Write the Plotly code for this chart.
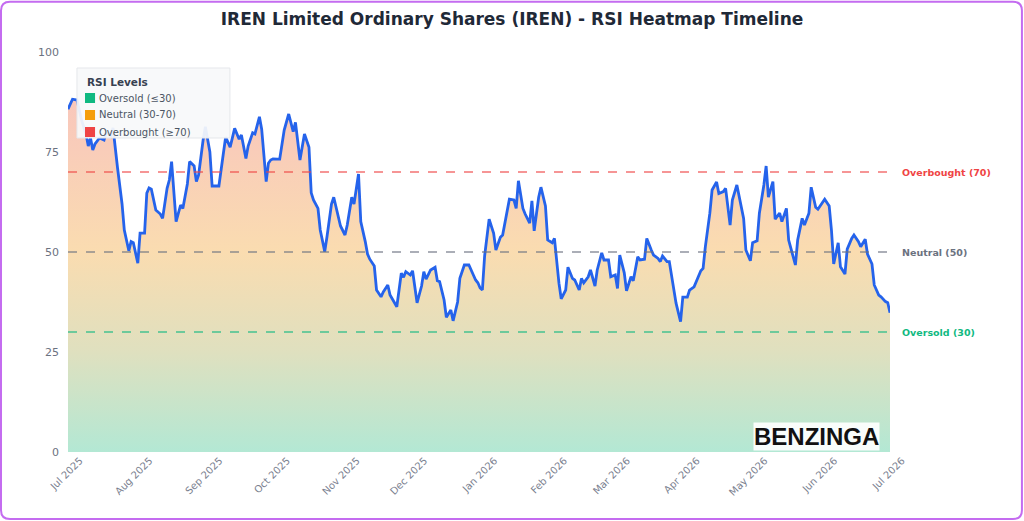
import pandas as pd
import plotly.graph_objects as go

# Day offsets from 2025-07-01 and RSI values
day_offset = [0, 2, 4, 6, 8, 9, 10, 11, 12, 14, 16, 17, 19, 20, 22, 23, 24, 25, 27, 28,
              29, 31, 32, 34, 35, 36, 37, 39, 41, 42, 44, 45, 46, 48, 50, 51, 53, 54, 56, 57,
              58, 60, 61, 63, 64, 66, 67, 69, 70, 72, 74, 76, 77, 79, 80, 82, 83, 85, 86, 88,
              89, 90, 91, 93, 94, 96, 97, 98, 100, 101, 103, 104, 105, 107, 108, 109, 111, 112, 114, 115,
              117, 118, 120, 121, 123, 124, 126, 127, 129, 130, 132, 133, 134, 136, 137, 139, 140, 142, 143, 145,
              146, 148, 149, 150, 152, 153, 155, 157, 158, 159, 161, 163, 164, 165, 167, 168, 170, 171, 173, 174,
              176, 177, 178, 180, 181, 182, 183, 184, 185, 187, 189, 190, 192, 193, 195, 196, 198, 199, 200, 202,
              203, 205, 206, 207, 209, 210, 212, 213, 215, 216, 218, 219, 221, 222, 224, 225, 227, 228, 229, 231,
              232, 234, 235, 237, 238, 240, 241, 243, 244, 245, 247, 248, 250, 251, 253, 254, 256, 257, 259, 260,
              262, 263, 264, 266, 267, 269, 270, 272, 273, 275, 276, 278, 279, 281, 282, 283, 285, 286, 288, 289,
              291, 292, 294, 295, 297, 298, 300, 301, 303, 304, 306, 307, 309, 310, 311, 313, 314, 316, 317, 319,
              320, 321, 323, 324, 326, 327, 329, 330, 332, 333, 335, 336, 338, 339, 340, 342, 343, 345, 346, 348,
              349, 351, 352, 354, 355, 357, 358, 360, 361, 363, 364, 365]
rsi = [85.7, 88.2, 88.0, 83.0, 79.5, 76.5, 78.5, 75.5, 77.0, 78.5, 78.0, 80.0, 79.0, 81.0, 71.0, 67.0, 62.0, 55.5, 50.3, 52.6,
       52.3, 47.2, 54.7, 54.7, 64.7, 66.0, 65.7, 60.5, 59.5, 58.4, 65.9, 68.0, 72.6, 57.6, 61.75, 60.9, 67.0, 72.6, 71.5, 67.6,
       69.25, 78.0, 81.3, 75.0, 66.5, 66.5, 66.5, 74.7, 78.7, 76.2, 80.9, 78.2, 79.25, 73.4, 76.5, 79.8, 79.5, 83.8, 80.7, 67.6,
       72.2, 73.0, 73.25, 73.2, 73.2, 80.5, 82.5, 84.5, 80.1, 82.4, 73.0, 76.5, 79.5, 76.2, 64.8, 63.0, 60.9, 55.5, 50.1, 53.8,
       62.0, 63.7, 58.8, 56.5, 54.25, 56.75, 63.7, 62.0, 69.5, 57.6, 52.6, 49.5, 48.2, 46.5, 40.5, 38.8, 40.0, 41.75, 39.25, 37.5,
       36.3, 44.7, 43.7, 45.1, 44.25, 45.3, 37.3, 41.5, 45.1, 43.2, 45.5, 46.2, 42.8, 42.6, 38.0, 33.7, 35.5, 32.8, 37.5, 43.4,
       46.75, 46.75, 46.75, 44.25, 43.0, 42.3, 41.0, 40.5, 49.0, 58.2, 54.7, 50.5, 53.7, 54.25, 60.1, 63.2, 63.0, 60.9, 67.8, 60.9,
       59.5, 57.2, 62.8, 55.3, 63.7, 66.2, 61.5, 53.0, 52.3, 53.4, 42.2, 38.3, 40.5, 46.2, 43.4, 43.0, 40.5, 43.4, 42.3, 43.8,
       45.5, 41.5, 45.5, 49.8, 48.0, 48.0, 43.8, 44.25, 40.9, 49.25, 44.8, 40.3, 43.8, 42.8, 48.8, 48.0, 48.2, 53.4, 50.5, 49.25,
       48.4, 47.6, 49.0, 47.6, 47.6, 40.7, 37.2, 32.6, 38.7, 38.7, 40.5, 41.3, 42.6, 45.3, 45.9, 51.3, 59.7, 65.5, 67.5, 64.6,
       65.1, 65.9, 56.75, 63.0, 66.75, 63.8, 58.4, 50.5, 47.8, 52.3, 52.8, 59.7, 66.75, 71.5, 63.7, 67.6, 58.2, 59.7, 57.6, 60.9,
       53.0, 50.9, 46.75, 53.0, 58.4, 56.75, 59.7, 66.2, 61.2, 60.7, 62.2, 63.2, 61.5, 55.5, 47.0, 52.3, 46.3, 44.5, 50.7, 53.4,
       54.25, 52.6, 51.3, 53.2, 49.5, 47.0, 41.75, 39.25, 38.8, 37.6, 37.3, 34.8]

levels = [70, 50, 30]
level_labels = ["Overbought (70)", "Neutral (50)", "Oversold (30)"]
level_colors = ["#ef4444", "#6b7280", "#10b981"]
legend_title = "RSI Levels"
legend_names = ["Oversold (≤30)", "Neutral (30-70)", "Overbought (≥70)"]
legend_colors = ["#10b981", "#f59e0b", "#ef4444"]
y_ticks = [0, 25, 50, 75, 100]

start = pd.Timestamp("2025-07-01")
end = pd.Timestamp("2026-07-01")
dates = [start + pd.Timedelta(days=d) for d in day_offset]

fig = go.Figure()

fig.add_trace(go.Scatter(
    x=dates, y=rsi, mode="lines", fill="tozeroy",
    line=dict(color="#2563eb", width=2.8),
    fillgradient=dict(type="vertical", start=0, stop=100,
                      colorscale=[[0.0, "#b3e8d4"], [0.25, "#dfe0bf"], [0.5, "#fadcb0"],
                                  [0.75, "#f9cdb9"], [1.0, "#f8c2bd"]]),
    showlegend=False, hoverinfo="x+y",
))

for lv, lab, col in zip(levels, level_labels, level_colors):
    fig.add_shape(type="line", xref="paper", x0=0, x1=1, yref="y", y0=lv, y1=lv,
                  line=dict(color=col, width=1.3, dash="dash"), opacity=0.75, layer="above")
    fig.add_annotation(xref="paper", x=1.012, y=lv, yref="y", text=f"<b>{lab}</b>",
                       showarrow=False, xanchor="left", yanchor="middle",
                       font=dict(size=9.5, color=col, family="DejaVu Sans"))

# legend box (custom, positioned in paper coordinates)
lx0, lx1, ly0, ly1 = 0.0109, 0.197, 0.785, 0.96
fig.add_shape(type="rect", xref="paper", yref="paper", x0=lx0, x1=lx1, y0=ly0, y1=ly1,
              fillcolor="rgba(248,249,250,0.93)", line=dict(color="#e5e7eb", width=1), layer="above")
fig.add_annotation(xref="paper", yref="paper", x=0.0207, y=0.925, text=f"<b>{legend_title}</b>",
                   showarrow=False, xanchor="left", yanchor="middle",
                   font=dict(size=10.5, color="#374151", family="DejaVu Sans"))
item_y = [0.885, 0.8425, 0.80]
for name, col, iy in zip(legend_names, legend_colors, item_y):
    fig.add_shape(type="rect", xref="paper", yref="paper", x0=0.0207, x1=0.0329,
                  y0=iy - 0.0125, y1=iy + 0.0125, fillcolor=col, line=dict(width=0), layer="above")
    fig.add_annotation(xref="paper", yref="paper", x=0.0355, y=iy, text=name,
                       showarrow=False, xanchor="left", yanchor="middle",
                       font=dict(size=10, color="#4b5563", family="DejaVu Sans"))

fig.add_annotation(xref="paper", yref="paper", x=0.911, y=0.04, text="<b>BENZINGA</b>",
                   showarrow=False, xanchor="center", yanchor="middle",
                   bgcolor="rgba(255,255,255,0.9)", borderpad=0,
                   font=dict(size=24, color="#111111", family="Liberation Sans"))

# rounded purple border around the figure
x0, x1 = -0.0815, 1.1605
y0, y1 = -0.1675, 1.1255
rx, ry = 0.011, 0.022
path = (f"M {x0+rx},{y1} L {x1-rx},{y1} Q {x1},{y1} {x1},{y1-ry} "
        f"L {x1},{y0+ry} Q {x1},{y0} {x1-rx},{y0} L {x0+rx},{y0} "
        f"Q {x0},{y0} {x0},{y0+ry} L {x0},{y1-ry} Q {x0},{y1} {x0+rx},{y1} Z")
fig.add_shape(type="path", xref="paper", yref="paper", path=path,
              line=dict(color="#c46cf0", width=2))

fig.update_layout(
    width=1024, height=521,
    margin=dict(l=68, r=134, t=52, b=69),
    paper_bgcolor="white", plot_bgcolor="white",
    font=dict(family="DejaVu Sans", color="#6b7280", size=10),
    showlegend=False,
    title=dict(text="<b>IREN Limited Ordinary Shares (IREN) - RSI Heatmap Timeline</b>",
               x=0.5, xanchor="center", y=0.963, yanchor="middle",
               font=dict(size=17, color="#1f2937", family="DejaVu Sans")),
    xaxis=dict(range=[start, end], dtick="M1", tickformat="%b %Y",
               tick0="2025-07-01", tickangle=-45, showgrid=False, zeroline=False,
               showline=False, ticks="", ticklabelshift=12,
               tickfont=dict(size=10, color="#7b8190")),
    yaxis=dict(range=[0, 100], tickvals=y_ticks, showgrid=False, zeroline=False,
               showline=False, ticks="", ticklabelstandoff=8,
               tickfont=dict(size=11, color="#6b7280")),
)

fig.write_html("out.html")
